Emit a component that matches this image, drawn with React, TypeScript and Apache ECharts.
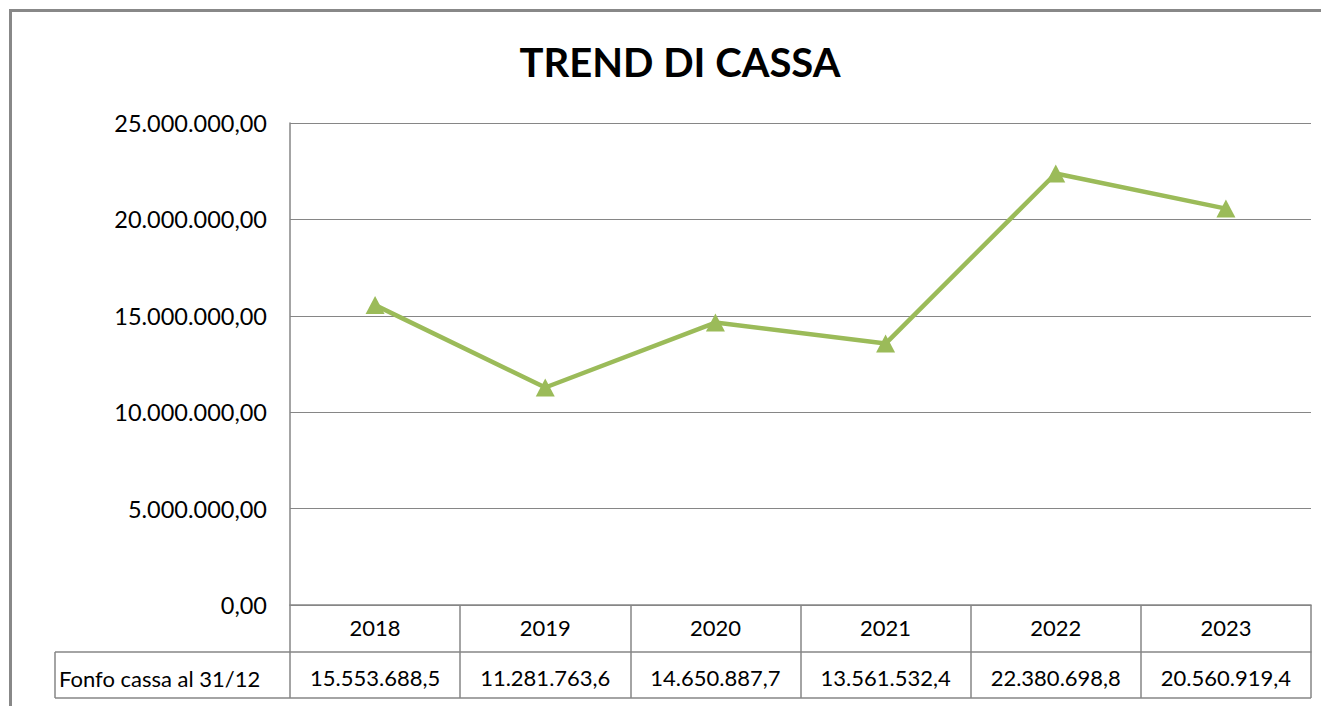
import React, { useEffect, useRef } from "react";
import * as echarts from "echarts";

const years = ["2018", "2019", "2020", "2021", "2022", "2023"];
const cashValues = [15553688.5, 11281763.6, 14650887.7, 13561532.4, 22380698.8, 20560919.4];
const seriesName = "Fonfo cassa al 31/12";
const chartTitle = "TREND DI CASSA";
const yMin = 0;
const yMax = 25000000;
const yStep = 5000000;

function fmtIt(v: number, decimals: number): string {
  const neg = v < 0;
  const s = Math.abs(v).toFixed(decimals);
  const [intPart, dec] = s.split(".");
  const grouped = intPart.replace(/\B(?=(\d{3})+(?!\d))/g, ".");
  return (neg ? "-" : "") + grouped + (dec !== undefined ? "," + dec : "");
}

const FONT = "Lato, 'Open Sans', sans-serif";
const GRAY = "#868686";

export default function App() {
  const ref = useRef<HTMLDivElement>(null);
  useEffect(() => {
    if (!ref.current) return;
    const chart = echarts.init(ref.current, null, { renderer: "svg" });
    chart.setOption({
      animation: false,
      backgroundColor: "#ffffff",
      textStyle: { fontFamily: FONT, color: "#000" },
      title: {
        text: chartTitle,
        left: 675,
        top: 37,
        textAlign: "center",
        textStyle: { fontFamily: FONT, fontWeight: "bold", fontSize: 40, color: "#000" },
      },
      grid: { left: 290, right: 10, top: 123, bottom: 101, containLabel: false },
      xAxis: [
        {
          type: "category",
          data: years,
          position: "bottom",
          boundaryGap: true,
          axisLine: { show: true, lineStyle: { color: GRAY, width: 1.5 } },
          axisTick: { show: true, length: 47, lineStyle: { color: GRAY, width: 1.5 } },
          axisLabel: { fontFamily: FONT, fontSize: 22, color: "#000", margin: 11 },
          splitLine: { show: false },
        },
        {
          type: "category",
          data: years,
          position: "bottom",
          offset: 47,
          boundaryGap: true,
          axisLine: { show: true, lineStyle: { color: GRAY, width: 1.5 } },
          axisTick: { show: true, length: 46, lineStyle: { color: GRAY, width: 1.5 } },
          axisLabel: {
            fontFamily: FONT,
            fontSize: 22,
            color: "#000",
            margin: 14,
            formatter: (_v: string, i: number) => fmtIt(cashValues[i], 1),
          },
        },
      ],
      yAxis: {
        type: "value",
        min: yMin,
        max: yMax,
        interval: yStep,
        axisLine: { show: true, lineStyle: { color: GRAY, width: 1.5 } },
        axisTick: { show: false },
        axisLabel: {
          fontFamily: FONT,
          fontSize: 23.5,
          color: "#000",
          margin: 23,
          formatter: (v: number) => fmtIt(v, 2),
        },
        splitLine: { show: true, lineStyle: { color: GRAY, width: 1 } },
      },
      series: [
        {
          name: seriesName,
          type: "line",
          data: cashValues,
          xAxisIndex: 0,
          yAxisIndex: 0,
          symbol: "triangle",
          symbolSize: [19, 18],
          lineStyle: { color: "#9BBB59", width: 4.5 },
          itemStyle: { color: "#9BBB59" },
        },
      ],
      graphic: [
        {
          type: "rect",
          shape: { x: 10.5, y: 10.5, width: 1340, height: 760 },
          style: { fill: "none", stroke: "#888888", lineWidth: 3 },
          silent: true,
        },
        {
          type: "line",
          shape: { x1: 55, y1: 652, x2: 290, y2: 652 },
          style: { stroke: GRAY, lineWidth: 1.5 },
        },
        {
          type: "line",
          shape: { x1: 55, y1: 698, x2: 1311, y2: 698 },
          style: { stroke: GRAY, lineWidth: 1.5 },
        },
        {
          type: "line",
          shape: { x1: 55, y1: 652, x2: 55, y2: 698 },
          style: { stroke: GRAY, lineWidth: 1.5 },
        },
        {
          type: "text",
          x: 59,
          y: 678,
          style: {
            text: seriesName,
            font: "22px " + FONT,
            fill: "#000",
            textVerticalAlign: "middle",
            verticalAlign: "middle",
          },
        },
      ],
    });
    return () => chart.dispose();
  }, []);
  return (
    <div
      ref={ref}
      style={{ position: "absolute", left: 0, top: 0, width: 1321, height: 706 }}
    />
  );
}
